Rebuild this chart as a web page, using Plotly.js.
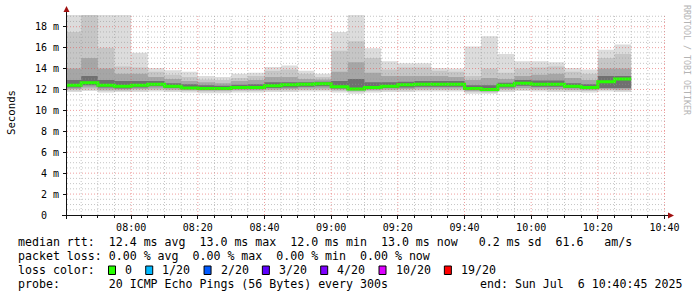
<!DOCTYPE html>
<html><head><meta charset="utf-8">
<script src="https://cdn.plot.ly/plotly-3.0.1.min.js"></script>
<style>html,body{margin:0;padding:0;background:#fff}#chart{width:697px;height:297px}</style>
</head><body><div id="chart"></div>
<script>
// ---- data (ms) ----
const day = "2025-07-06 ";
const binStart = ["07:40","07:45","07:50","07:55","08:00","08:05","08:10","08:15","08:20","08:25",
  "08:30","08:35","08:40","08:45","08:50","08:55","09:00","09:05","09:10","09:15",
  "09:20","09:25","09:30","09:35","09:40","09:45","09:50","09:55","10:00","10:05",
  "10:10","10:15","10:20","10:25"];
const binEnd = "10:30";
const rttMax = [19.5,19.5,19.5,19.5,15.5,14.05,13.85,13.7,13.3,13.2,13.5,13.6,14.15,14.3,13.8,13.5,17.5,19.5,15.95,14.7,
  14.5,14.5,14.05,14.0,16.1,17.1,15.4,14.7,14.7,14.6,14.05,13.9,15.8,16.3];
const rttHi2 = [17.5,19.5,16.0,14.2,14.1,13.7,13.4,13.2,12.95,12.9,13.1,13.3,13.8,13.9,13.5,13.2,15.7,16.6,15.0,13.9,
  14.1,14.1,13.8,13.7,13.3,14.0,13.6,14.0,14.1,14.2,13.7,13.5,15.0,15.4];
const rttHi3 = [14.0,15.0,14.0,13.5,13.5,13.2,13.0,12.8,12.7,12.6,12.8,12.9,13.2,13.2,13.0,12.95,13.7,14.6,13.6,13.3,
  13.3,13.3,13.3,13.2,12.9,13.1,13.0,13.3,13.4,13.5,13.1,12.9,14.0,14.0];
const rttHi4 = [12.9,13.3,12.9,12.8,12.8,12.8,12.6,12.5,12.4,12.35,12.45,12.5,12.7,12.7,12.7,12.75,12.8,13.0,12.7,12.7,
  12.75,12.8,12.8,12.8,12.4,12.4,12.65,12.9,12.85,12.85,12.6,12.5,13.3,13.3];
const rttMedian = [12.4,12.65,12.4,12.3,12.4,12.5,12.3,12.15,12.1,12.1,12.2,12.2,12.35,12.45,12.5,12.55,12.25,12.05,12.2,12.3,
  12.45,12.5,12.5,12.5,12.1,12.0,12.4,12.6,12.5,12.5,12.3,12.2,12.75,13.0];
const rttLo4 = [12.2,12.4,12.2,12.1,12.2,12.3,12.15,12.05,12.0,12.0,12.05,12.05,12.15,12.2,12.25,12.3,12.1,11.95,12.05,12.15,
  12.2,12.25,12.25,12.25,11.95,11.9,12.2,12.35,12.25,12.25,12.15,12.05,12.15,12.15];
const rttLo3 = [12.05,12.2,12.0,12.0,12.05,12.1,12.0,11.95,11.9,11.9,11.95,11.95,12.0,12.05,12.1,12.1,12.0,11.85,11.95,12.0,
  12.05,12.1,12.1,12.1,11.85,11.8,12.05,12.15,12.1,12.05,12.0,11.95,12.05,12.0];
const rttLo2 = [11.9,12.0,11.85,11.85,11.9,11.95,11.9,11.85,11.8,11.8,11.85,11.85,11.9,11.9,11.95,11.95,11.85,11.75,11.85,11.9,
  11.9,11.95,11.95,11.95,11.75,11.7,11.9,12.0,11.95,11.9,11.9,11.85,11.95,11.9];
const rttMin = [11.75,11.85,11.7,11.75,11.75,11.8,11.75,11.7,11.65,11.65,11.7,11.7,11.75,11.75,11.8,11.8,11.7,11.6,11.7,11.75,
  11.75,11.8,11.8,11.8,11.6,11.6,11.75,11.85,11.8,11.75,11.75,11.7,11.8,11.75];
const yTickVals = [0,2,4,6,8,10,12,14,16,18];
const yTickText = ["0\u00a0\u00a0","2 m","4 m","6 m","8 m","10 m","12 m","14 m","16 m","18 m"];
const xTickTimes = ["08:00","08:20","08:40","09:00","09:20","09:40","10:00","10:20","10:40"];
const lossLabels = ["0","1/20","2/20","3/20","4/20","10/20","19/20"];
const lossColors = ["#26ff00","#00b8ff","#0059ff","#5e00ff","#7e00ff","#dd00ff","#ff0000"];
const legendLines = [
  "median rtt:  12.4 ms avg  13.0 ms max  12.0 ms min  13.0 ms now   0.2 ms sd  61.6   am/s",
  "packet loss: 0.00 % avg  0.00 % max  0.00 % min  0.00 % now",
  "loss color:",
  "probe:       20 ICMP Echo Pings (56 Bytes) every 300s"
];
const endText = "end: Sun Jul  6 10:40:45 2025";

// ---- build ----
const PL=67, PW=600, PB=215, PH=200;
const px = p => (p-PL)/PW;
const py = p => (PB-p)/PH;
const nb = s => s.replace(/ /g, "\u00a0");
const xs = binStart.map(t => day+t+":00").concat([day+binEnd+":00"]);
const ext = a => a.concat([a[a.length-1]]);

const bands = [
  [rttMin, rttMax, "#dcdcdc"],
  [rttLo2, rttHi2, "#c6c6c6"],
  [rttLo3, rttHi3, "#a6a6a6"],
  [rttLo4, rttHi4, "#707070"]
];
const traces = [];
bands.forEach(([lo, hi, c]) => {
  traces.push({x: xs, y: ext(lo), mode: "lines", line: {width: 0, shape: "hv"}, hoverinfo: "skip"});
  traces.push({x: xs, y: ext(hi), mode: "lines", line: {width: 0, shape: "hv"}, fill: "tonexty", fillcolor: c, hoverinfo: "skip"});
});
traces.push({x: xs, y: ext(rttMedian), mode: "lines", line: {color: lossColors[0], width: 3, shape: "hv"}});

const shapes = [];
const dash = "1px,2px";
const t0 = new Date("2025-07-06T07:45:00").getTime();
const tEnd = new Date("2025-07-06T10:40:45").getTime();
for (let t = t0; t <= tEnd; t += 300000) {
  const d = new Date(t);
  const mm = d.getMinutes();
  const lab = day + String(d.getHours()).padStart(2,"0") + ":" + String(mm).padStart(2,"0") + ":00";
  const major = mm % 20 === 0;
  shapes.push({type: "line", layer: "above", xref: "x", yref: "paper", x0: lab, x1: lab, y0: 0, y1: 1,
    line: {color: major ? "rgba(225,80,80,0.55)" : "rgba(150,150,150,0.55)", width: 1, dash: dash}});
}
for (let k = 1; k <= 38; k++) {
  const v = k*0.5;
  const major = k % 4 === 0;
  shapes.push({type: "line", layer: "above", xref: "paper", yref: "y", x0: 0, x1: 1, y0: v, y1: v,
    line: {color: major ? "rgba(225,80,80,0.55)" : "rgba(150,150,150,0.55)", width: 1, dash: dash}});
}
shapes.push({type: "line", layer: "above", xref: "paper", yref: "paper", x0: px(62), x1: px(669), y0: py(215.5), y1: py(215.5), line: {color: "#111", width: 1}});
shapes.push({type: "line", layer: "above", xref: "paper", yref: "paper", x0: px(66.5), x1: px(66.5), y0: py(219), y1: py(10), line: {color: "#111", width: 1}});
shapes.push({type: "path", layer: "above", xref: "paper", yref: "paper",
  path: `M ${px(63.5)} ${py(12)} L ${px(69.5)} ${py(12)} L ${px(66.5)} ${py(6)} Z`, fillcolor: "#a01010", line: {width: 0}});
shapes.push({type: "path", layer: "above", xref: "paper", yref: "paper",
  path: `M ${px(668)} ${py(212.5)} L ${px(668)} ${py(218.5)} L ${px(674)} ${py(215.5)} Z`, fillcolor: "#a01010", line: {width: 0}});

const annotations = [];
const mono = "DejaVu Sans Mono";
const rowsY = [241.5, 256, 270, 284];
legendLines.forEach((s, i) => {
  annotations.push({xref: "paper", yref: "paper", x: px(16), y: py(rowsY[i]), xanchor: "left", yanchor: "middle",
    text: nb(s), showarrow: false, font: {family: mono, size: 11.6, color: "#000"}});
});
annotations.push({xref: "paper", yref: "paper", x: px(478), y: py(rowsY[3]), xanchor: "left", yanchor: "middle",
  text: nb(endText), showarrow: false, font: {family: mono, size: 11.6, color: "#000"}});
let sx = 108.5;
lossLabels.forEach((lab, i) => {
  shapes.push({type: "rect", layer: "above", xref: "paper", yref: "paper",
    x0: px(sx), x1: px(sx+7), y0: py(rowsY[2]+4.5), y1: py(rowsY[2]-4), fillcolor: lossColors[i], line: {color: "#000", width: 1}});
  annotations.push({xref: "paper", yref: "paper", x: px(sx+14.5), y: py(rowsY[2]), xanchor: "left", yanchor: "middle",
    text: lab, showarrow: false, font: {family: mono, size: 11.6, color: "#000"}});
  sx = sx + 14.5 + lab.length*7.03 + 15.7;
});
annotations.push({xref: "paper", yref: "paper", x: px(11), y: py(113), xanchor: "center", yanchor: "middle",
  text: "Seconds", textangle: -90, showarrow: false, font: {family: mono, size: 10.7, color: "#000"}});
annotations.push({xref: "paper", yref: "paper", x: px(687), y: py(60), xanchor: "center", yanchor: "middle",
  text: nb("RRDTOOL / TOBI OETIKER"), textangle: 90, showarrow: false, font: {family: mono, size: 8.3, color: "#b4b4b4"}});

const layout = {
  width: 697, height: 297,
  margin: {l: PL, r: 697-PL-PW, t: PB-PH, b: 297-PB, pad: 0},
  paper_bgcolor: "#fff", plot_bgcolor: "#fff",
  showlegend: false,
  font: {family: mono, size: 10, color: "#000"},
  xaxis: {
    type: "date",
    range: [day+"07:40:45", day+"10:40:45"],
    tickmode: "array",
    tickvals: xTickTimes.map(t => day+t+":00"),
    ticktext: xTickTimes,
    ticks: "outside", ticklen: 3, tickcolor: "#111", tickwidth: 1,
    minor: {dtick: 300000, tick0: day+"07:45:00", ticks: "outside", ticklen: 2, tickcolor: "#111", showgrid: false},
    showgrid: false, zeroline: false, showline: false,
    tickfont: {family: mono, size: 10, color: "#000"},
    fixedrange: true
  },
  yaxis: {
    range: [0, PH/10.46],
    tickmode: "array", tickvals: yTickVals, ticktext: yTickText,
    ticks: "outside", ticklen: 3, tickcolor: "#111", tickwidth: 1,
    ticklabelstandoff: 2,
    showgrid: false, zeroline: false, showline: false,
    tickfont: {family: mono, size: 10, color: "#000"},
    fixedrange: true
  },
  shapes: shapes,
  annotations: annotations
};
Plotly.newPlot("chart", traces, layout, {staticPlot: true, displayModeBar: false});
</script>
</body></html>
